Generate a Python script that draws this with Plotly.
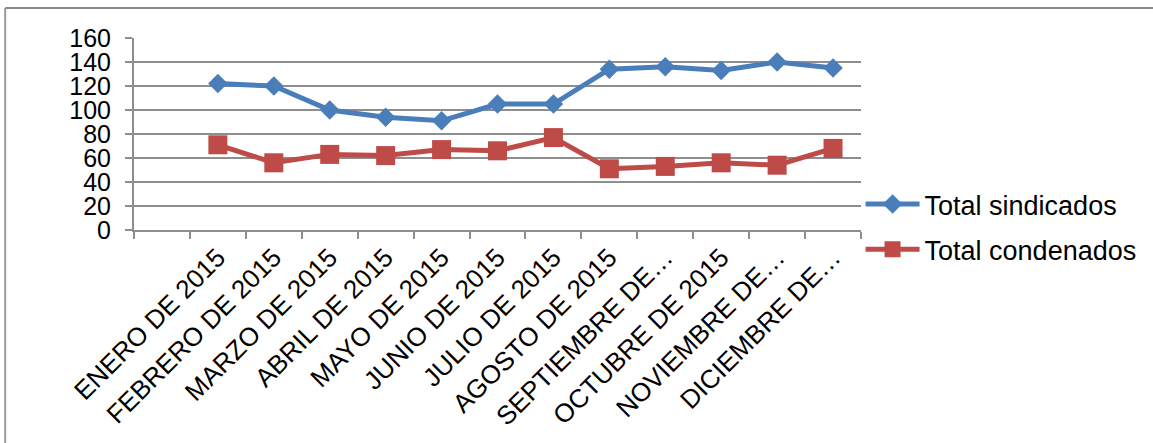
import plotly.graph_objects as go

categories = ["ENERO DE 2015", "FEBRERO DE 2015", "MARZO DE 2015", "ABRIL DE 2015",
              "MAYO DE 2015", "JUNIO DE 2015", "JULIO DE 2015", "AGOSTO DE 2015",
              "SEPTIEMBRE DE…", "OCTUBRE DE 2015", "NOVIEMBRE DE…", "DICIEMBRE DE…"]
blank_category = " "
sindicados = [122, 120, 100, 94, 91, 105, 105, 134, 136, 133, 140, 135]
condenados = [71, 56, 63, 62, 67, 66, 77, 51, 53, 56, 54, 68]
y_ticks = [0, 20, 40, 60, 80, 100, 120, 140, 160]

FONT = "Liberation Sans, Arial, sans-serif"
GRID = "#8e8e8e"

fig = go.Figure()
fig.add_trace(go.Scatter(
    x=categories, y=sindicados, name="Total sindicados", mode="lines+markers",
    line=dict(color="#4A7EBB", width=5),
    marker=dict(symbol="diamond", size=15, color="#4A7EBB"),
    legendgroup="a",
))
fig.add_trace(go.Scatter(
    x=categories, y=condenados, name="Total condenados", mode="lines+markers",
    line=dict(color="#BE4B48", width=5),
    marker=dict(symbol="square", size=19, color="#BE4B48"),
    legendgroup="b",
))

W, H = 1153, 443
L, R, T, B = 134, 862, 38, 230

fig.update_layout(
    width=W, height=H,
    margin=dict(l=L, r=W - R, t=T, b=H - B, pad=0),
    paper_bgcolor="white", plot_bgcolor="white",
    font=dict(family=FONT, size=25, color="black"),
    showlegend=True,
    legend=dict(x=0.998, xanchor="left", y=(B - 180) / (B - T), yanchor="top",
                font=dict(size=27), traceorder="grouped", tracegroupgap=7,
                bgcolor="rgba(0,0,0,0)", itemwidth=54),
    xaxis=dict(
        type="category", categoryorder="array",
        categoryarray=[blank_category] + categories,
        range=[-0.5, len(categories) + 0.5],
        tickson="boundaries", ticks="outside", ticklen=7, tickwidth=2, tickcolor=GRID,
        showline=True, linecolor=GRID, linewidth=2, showgrid=False,
        tickangle=-45, tickfont=dict(size=26), zeroline=False,
    ),
    yaxis=dict(
        range=[0, 160], tickvals=y_ticks, ticks="outside", ticklen=7, tickwidth=2,
        tickcolor=GRID, showline=True, linecolor=GRID, linewidth=2,
        showgrid=True, gridcolor=GRID, gridwidth=2, zeroline=False,
        tickfont=dict(size=25), ticklabelstandoff=9,
    ),
    shapes=[
        dict(type="line", xref="paper", yref="paper",
             x0=(5 - L) / (R - L), x1=(1160 - L) / (R - L),
             y0=(B - 8) / (B - T), y1=(B - 8) / (B - T),
             line=dict(color="#8a8a8a", width=2)),
        dict(type="line", xref="paper", yref="paper",
             x0=(5 - L) / (R - L), x1=(5 - L) / (R - L),
             y0=(B - 8) / (B - T), y1=(B - 450) / (B - T),
             line=dict(color="#9a9a9a", width=2)),
    ],
)

fig.write_html("out.html", config={"displayModeBar": False},
               post_script="document.body.style.margin='0';document.body.style.overflow='hidden';")
